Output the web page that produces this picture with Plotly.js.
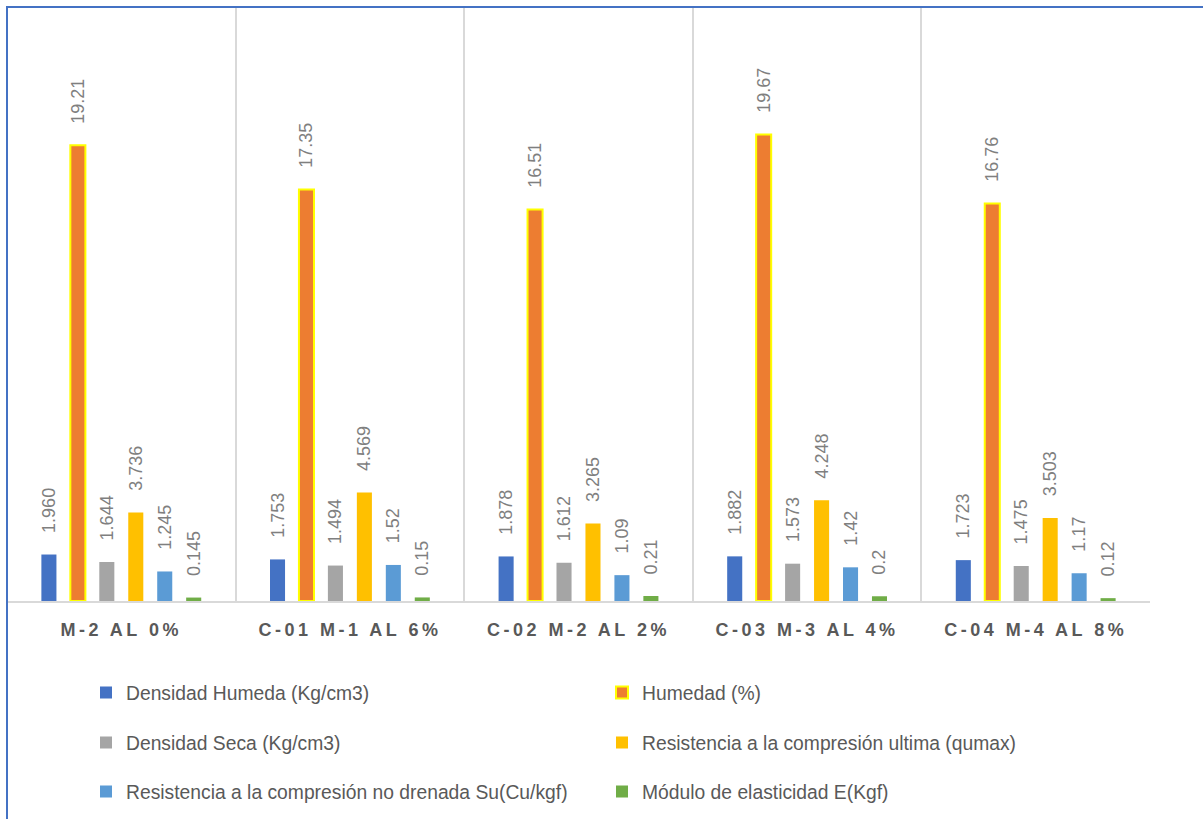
<!DOCTYPE html>
<html>
<head>
<meta charset="utf-8">
<script src="https://cdn.plot.ly/plotly-3.0.1.min.js"></script>
<style>
  html, body { margin: 0; padding: 0; background: #fff; }
  #chart { width: 1203px; height: 819px; }
</style>
</head>
<body>
<div id="chart"></div>
<script>
// ---- data ----
const categories = ["M-2 AL 0%", "C-01 M-1 AL 6%", "C-02 M-2 AL 2%", "C-03 M-3 AL 4%", "C-04 M-4 AL 8%"];

const densidadHumeda = [1.960, 1.753, 1.878, 1.882, 1.723];
const densidadHumedaLabels = ["1.960", "1.753", "1.878", "1.882", "1.723"];

const humedad = [19.21, 17.35, 16.51, 19.67, 16.76];
const humedadLabels = ["19.21", "17.35", "16.51", "19.67", "16.76"];

const densidadSeca = [1.644, 1.494, 1.612, 1.573, 1.475];
const densidadSecaLabels = ["1.644", "1.494", "1.612", "1.573", "1.475"];

const resUltima = [3.736, 4.569, 3.265, 4.248, 3.503];
const resUltimaLabels = ["3.736", "4.569", "3.265", "4.248", "3.503"];

const resNoDrenada = [1.245, 1.52, 1.09, 1.42, 1.17];
const resNoDrenadaLabels = ["1.245", "1.52", "1.09", "1.42", "1.17"];

const modulo = [0.145, 0.15, 0.21, 0.2, 0.12];
const moduloLabels = ["0.145", "0.15", "0.21", "0.2", "0.12"];

const seriesNames = [
  "Densidad Humeda (Kg/cm3)",
  "Humedad (%)",
  "Densidad Seca (Kg/cm3)",
  "Resistencia a la compresión ultima (qumax)",
  "Resistencia a la compresión no drenada Su(Cu/kgf)",
  "Módulo de elasticidad E(Kgf)"
];
const seriesValues = [densidadHumeda, humedad, densidadSeca, resUltima, resNoDrenada, modulo];
const seriesLabels = [densidadHumedaLabels, humedadLabels, densidadSecaLabels, resUltimaLabels, resNoDrenadaLabels, moduloLabels];
const seriesColors = ["#4472C4", "#ED7D31", "#A5A5A5", "#FFC000", "#5B9BD5", "#70AD47"];

// ---- layout helpers ----
const W = 1203, H = 819;
const M = {l: 7, r: 53, t: 8, b: 218};
const plotW = W - M.l - M.r, plotH = H - M.t - M.b;
const px2x = p => (p - M.l) / plotW;
const px2y = p => (H - M.b - p) / plotH;

const legendIds = ["legend", "legend2", "legend3", "legend4", "legend5", "legend6"];
const legendPos = [
  [86, 693], [602, 693],
  [86, 743], [602, 743],
  [86, 792], [602, 792]
];

const NB = "\u00A0\u00A0\u00A0\u2009";
const traces = seriesNames.map((name, i) => ({
  type: "bar",
  name: name,
  x: categories,
  y: seriesValues[i],
  text: seriesLabels[i],
  texttemplate: NB + "%{text}",
  textposition: "outside",
  textangle: -90,
  constraintext: "none",
  cliponaxis: false,
  textfont: {family: "Liberation Sans, Arial, sans-serif", size: 18, color: "#7F7F7F"},
  marker: {
    color: seriesColors[i],
    line: i === 1 ? {color: "#FFFF00", width: 2} : {width: 0}
  },
  legend: legendIds[i],
  hoverinfo: "x+y+name"
}));

const layout = {
  width: W, height: H,
  margin: M,
  paper_bgcolor: "#FFFFFF",
  plot_bgcolor: "#FFFFFF",
  barmode: "group",
  bargap: 0.24,
  bargroupgap: 0.48,
  font: {family: "Liberation Sans, Arial, sans-serif", color: "#595959"},
  xaxis: {
    type: "category",
    tickson: "boundaries",
    showgrid: true,
    gridcolor: "#D9D9D9",
    gridwidth: 2,
    showline: true,
    linecolor: "#D9D9D9",
    linewidth: 2,
    ticks: "",
    ticklabelstandoff: 11,
    tickfont: {family: "Liberation Sans, Arial, sans-serif", size: 18, color: "#595959", weight: 700},
    zeroline: false,
    fixedrange: true
  },
  yaxis: {
    range: [0, 25],
    showgrid: false,
    showticklabels: false,
    showline: false,
    zeroline: false,
    ticks: "",
    fixedrange: true
  },
  shapes: [{
    type: "rect", xref: "paper", yref: "paper",
    x0: px2x(7), x1: px2x(1300),
    y0: px2y(900), y1: px2y(7),
    line: {color: "#4472C4", width: 2},
    fillcolor: "rgba(0,0,0,0)",
    layer: "above"
  }],
  showlegend: true
};

legendIds.forEach((id, i) => {
  layout[id] = {
    x: px2x(legendPos[i][0]),
    y: px2y(legendPos[i][1]),
    xanchor: "left",
    yanchor: "middle",
    orientation: "v",
    bgcolor: "rgba(0,0,0,0)",
    borderwidth: 0,
    font: {family: "Liberation Sans, Arial, sans-serif", size: 19.3, color: "#595959"}
  };
});

Plotly.newPlot("chart", traces, layout, {displayModeBar: false, staticPlot: true}).then(() => {
  document.querySelectorAll("#chart .xtick text").forEach(t => {
    t.style.letterSpacing = "3.5px";
  });
});
</script>
</body>
</html>
